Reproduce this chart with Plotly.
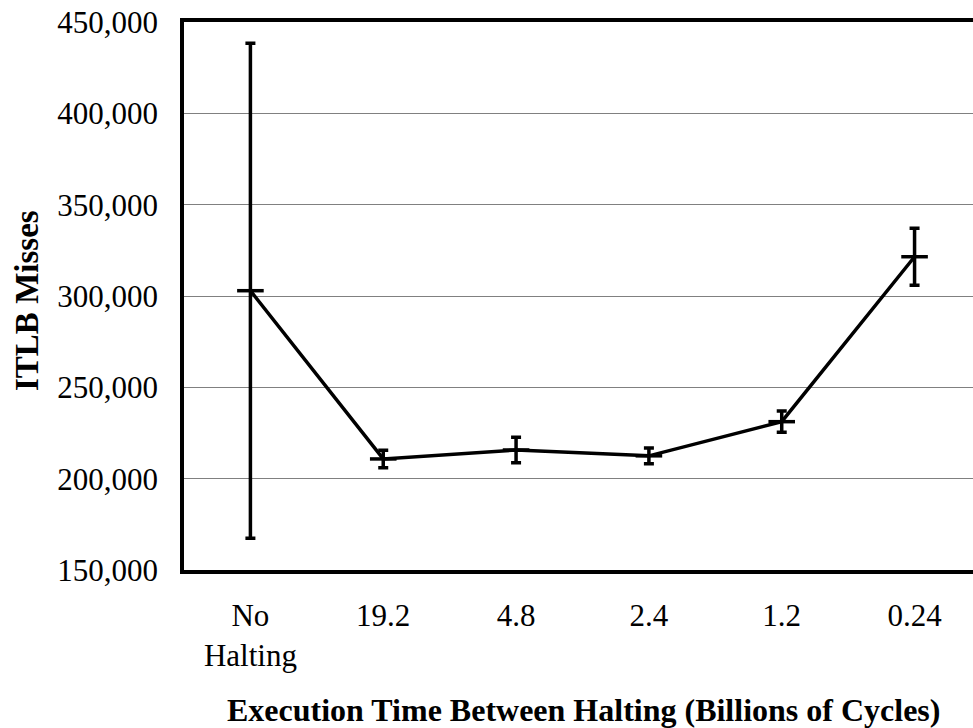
import plotly.graph_objects as go

categories = ["No<br>Halting", "19.2", "4.8", "2.4", "1.2", "0.24"]
itlb_misses = [302900, 210800, 215700, 212500, 231200, 321500]
error_plus = [135500, 4800, 7000, 4300, 5800, 15600]
error_minus = [135500, 4800, 7000, 4300, 5800, 15600]
y_ticks = [150000, 200000, 250000, 300000, 350000, 400000, 450000]
x_title = "Execution Time Between Halting (Billions of Cycles)"
y_title = "ITLB Misses"

FONT = "Liberation Serif, Times New Roman, serif"

fig = go.Figure()
fig.add_trace(go.Scatter(
    x=categories, y=itlb_misses,
    mode="lines+markers",
    line=dict(color="black", width=3.5),
    marker=dict(symbol="line-ew", size=19, line=dict(color="black", width=3.5)),
    error_y=dict(type="data", symmetric=False, array=error_plus, arrayminus=error_minus,
                 color="black", thickness=3.5, width=5),
    showlegend=False,
    hoverinfo="skip",
))

fig.update_layout(
    width=973, height=728,
    margin=dict(l=184, r=0, t=22, b=158),
    paper_bgcolor="white", plot_bgcolor="white",
    font=dict(family=FONT, size=31, color="black"),
    xaxis=dict(
        type="category", automargin=False,
        range=[-0.5, 5.44],
        showline=True, linecolor="black", linewidth=3.5, mirror=True,
        showgrid=False, zeroline=False,
        ticks="outside", ticklen=15, tickcolor="rgba(0,0,0,0)",
        tickfont=dict(family=FONT, size=31),
    ),
    yaxis=dict(
        automargin=False,
        range=[150000, 450000],
        tickvals=y_ticks,
        tickformat=",d",
        showline=True, linecolor="black", linewidth=3.5, mirror=False,
        showgrid=True, gridcolor="#808080", gridwidth=1,
        zeroline=False,
        ticks="outside", ticklen=16, tickcolor="rgba(0,0,0,0)",
        tickfont=dict(family=FONT, size=31),
    ),
    annotations=[
        dict(text="<b>" + x_title + "</b>", xref="paper", yref="paper",
             x=0.506, y=-0.2555, xanchor="center", yanchor="middle",
             showarrow=False, font=dict(family=FONT, size=32)),
        dict(text="<b>" + y_title + "</b>", xref="paper", yref="paper",
             x=-0.199, y=0.4927, xanchor="center", yanchor="middle", textangle=-90,
             showarrow=False, font=dict(family=FONT, size=33)),
    ],
)

fig.write_html(
    "out.html",
    config={"displayModeBar": False},
    post_script="document.body.style.margin='0';document.body.style.padding='0';document.body.style.overflow='hidden';",
)
